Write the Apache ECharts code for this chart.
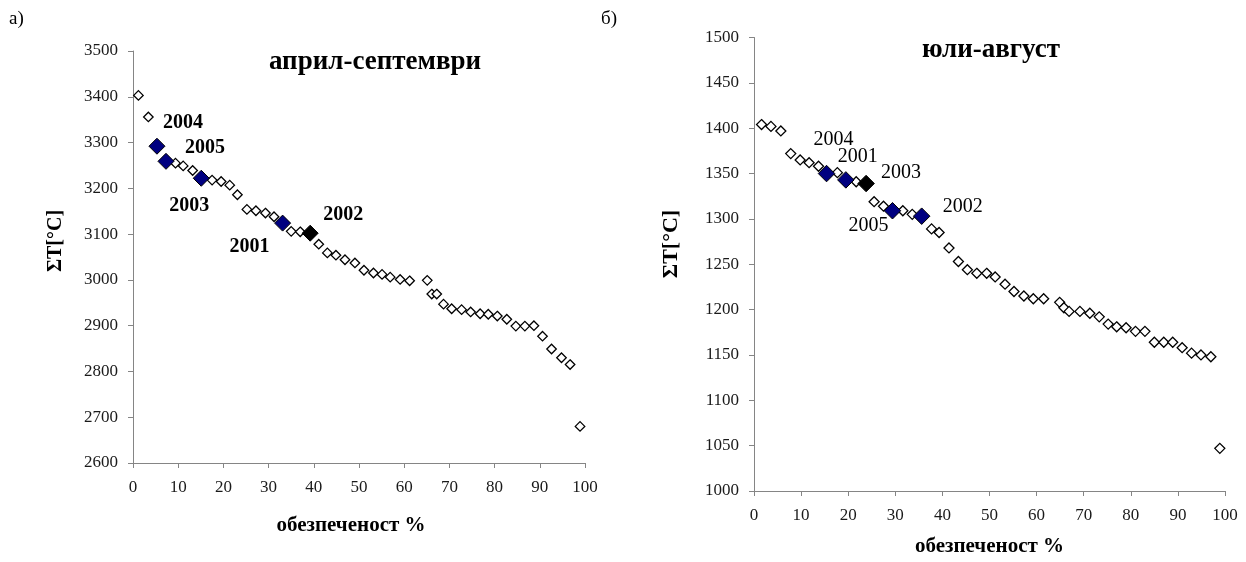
<!DOCTYPE html>
<html>
<head>
<meta charset="utf-8">
<script src="https://cdn.jsdelivr.net/npm/echarts@6/dist/echarts.min.js"></script>
<style>
html,body{margin:0;padding:0;background:#fff;}
#chart{width:1246px;height:562px;}
</style>
</head>
<body>
<div id="chart"></div>
<script>
// ---- Data: panel a) April-September ----
const aOpenX = [1.2,3.4,9.4,11.1,13.2,17.5,19.5,21.4,23.1,25.2,27.2,29.3,31.2,35.0,37.0,41.1,43.0,44.9,46.9,49.1,51.1,53.2,55.1,56.9,59.1,61.2,65.1,66.1,67.2,68.7,70.5,72.7,74.7,76.8,78.6,80.6,82.7,84.7,86.7,88.7,90.6,92.6,94.8,96.7,98.9];
const aOpenY = [3403,3356,3255,3249,3239,3218,3215,3207,3186,3154,3151,3146,3138,3106,3105,3078,3059,3054,3044,3037,3021,3015,3012,3006,3001,2998,2999,2969,2969,2947,2937,2935,2930,2926,2925,2921,2914,2899,2899,2900,2877,2849,2830,2815,2680];
const aYears = ['2004','2005','2003','2001','2002'];
const aHiX = [5.3,7.3,15.1,33.1,39.2];
const aHiY = [3292,3259,3222,3124,3102];

// ---- Data: panel б) July-August ----
const bOpenX = [1.6,3.6,5.7,7.8,9.8,11.7,13.7,17.7,21.7,25.5,27.5,31.6,33.6,37.7,39.3,41.4,43.4,45.3,47.3,49.4,51.2,53.3,55.2,57.3,59.3,61.5,64.9,65.8,66.9,69.2,71.3,73.3,75.2,77.0,79.0,81.0,83.0,85.0,87.0,88.9,90.9,92.9,94.9,97.0,98.9];
const bOpenY = [1404,1402,1397,1372,1365,1362,1358,1351,1341,1319,1314,1309,1305,1289,1285,1268,1253,1244,1240,1240,1236,1228,1220,1215,1212,1212,1208,1202,1198,1198,1196,1192,1184,1181,1180,1176,1176,1164,1164,1164,1158,1152,1150,1148,1047];
const bYears = ['2004','2001','2003','2005','2002'];
const bHiX = [15.4,19.5,23.8,29.4,35.6];
const bHiY = [1350,1343,1339,1309,1303];

// ---- Tick settings ----
const xTicks = {min:0, max:100, interval:10};
const aYTicks = {min:2600, max:3500, interval:100};
const bYTicks = {min:1000, max:1500, interval:50};

// ---- Styling (kept apart from data) ----
const NAVY = '#000080';
const aHiColors = [NAVY, NAVY, NAVY, NAVY, '#000000'];
const bHiColors = [NAVY, NAVY, '#000000', NAVY, NAVY];
const aLabelOffsets = [[26,-23],[39,-13],[-12,28],[-33,24],[33,-18]];
const bLabelOffsets = [[7,-34],[12,-23],[35,-11],[-24,15],[41,-9]];

const FONT = 'Liberation Serif, Times New Roman, serif';
const AXIS_GRAY = '#858585';
const TEXT = '#1a1a1a';

function zip(xs, ys){ return xs.map((x,i)=>[x, ys[i]]); }

function hiData(xs, ys, years, colors, offsets, bold){
  return xs.map((x,i)=>({
    value:[x, ys[i]],
    name: years[i],
    itemStyle:{color:colors[i], opacity:1},
    label:{
      show:true, formatter: years[i], position:'inside',
      offset: offsets[i],
      fontFamily: FONT, fontSize: 20, fontWeight: bold ? 'bold' : 'normal',
      color: '#000', opacity:1
    }
  }));
}

function xAxisCfg(gridIndex, nameGap, pad){
  return {
    gridIndex, type:'value', min:xTicks.min, max:xTicks.max, interval:xTicks.interval,
    name:'обезпеченост %', nameLocation:'middle', nameGap,
    nameTextStyle:{fontFamily:FONT, fontSize:21, fontWeight:'bold', color:'#000', padding:pad},
    axisLine:{show:true, onZero:false, lineStyle:{color:AXIS_GRAY, width:1}},
    axisTick:{show:true, length:5, lineStyle:{color:AXIS_GRAY}},
    axisLabel:{margin:16, fontFamily:FONT, fontSize:17, color:TEXT, formatter:v=>String(v)},
    splitLine:{show:false}
  };
}
function yAxisCfg(gridIndex, t){
  return {
    gridIndex, type:'value', min:t.min, max:t.max, interval:t.interval,
    axisLine:{show:true, onZero:false, lineStyle:{color:AXIS_GRAY, width:1}},
    axisTick:{show:true, length:5, lineStyle:{color:AXIS_GRAY}},
    axisLabel:{margin:15, fontFamily:FONT, fontSize:17, color:TEXT, formatter:v=>String(v)},
    splitLine:{show:false}
  };
}

const chart = echarts.init(document.getElementById('chart'));
chart.setOption({
  backgroundColor:'#fff',
  animation:false,
  grid:[
    {left:133, top:51, width:452, height:412},
    {left:754, top:37.5, width:471, height:458}
  ],
  xAxis:[xAxisCfg(0, 52, [0,16,0,0]), xAxisCfg(1, 45, [0,0,0,0])],
  yAxis:[yAxisCfg(0, aYTicks), yAxisCfg(1, bYTicks)],
  title:[
    {text:'април-септември', left:370, top:44, textAlign:'center',
     textStyle:{fontFamily:FONT, fontSize:27, fontWeight:'bold', color:'#000'}},
    {text:'юли-август', left:986, top:32, textAlign:'center',
     textStyle:{fontFamily:FONT, fontSize:27, fontWeight:'bold', color:'#000'}}
  ],
  graphic:[
    {type:'text', left:9, top:10, style:{text:'а)', font:'19px '+FONT, fill:'#000'}},
    {type:'text', left:601, top:10, style:{text:'б)', font:'19px '+FONT, fill:'#000'}},
    {type:'text', x:56, y:241, rotation:Math.PI/2,
     style:{text:'ΣT[°C]', font:'bold 20px '+FONT, fill:'#000', align:'center', verticalAlign:'middle'}},
    {type:'text', x:671, y:244, rotation:Math.PI/2,
     style:{text:'ΣT[°C]', font:'bold 22px '+FONT, fill:'#000', align:'center', verticalAlign:'middle'}}
  ],
  series:[
    {type:'scatter', xAxisIndex:0, yAxisIndex:0, symbol:'diamond', symbolSize:9.5,
     itemStyle:{color:'#fff', borderColor:'#000', borderWidth:1.3, opacity:1},
     data: zip(aOpenX, aOpenY), z:2},
    {type:'scatter', xAxisIndex:0, yAxisIndex:0, symbol:'diamond', symbolSize:16,
     itemStyle:{borderColor:'#000', borderWidth:1, opacity:1},
     data: hiData(aHiX, aHiY, aYears, aHiColors, aLabelOffsets, true), z:3},
    {type:'scatter', xAxisIndex:1, yAxisIndex:1, symbol:'diamond', symbolSize:10,
     itemStyle:{color:'#fff', borderColor:'#000', borderWidth:1.3, opacity:1},
     data: zip(bOpenX, bOpenY), z:2},
    {type:'scatter', xAxisIndex:1, yAxisIndex:1, symbol:'diamond', symbolSize:16.5,
     itemStyle:{borderColor:'#000', borderWidth:1, opacity:1},
     data: hiData(bHiX, bHiY, bYears, bHiColors, bLabelOffsets, false), z:3}
  ]
});
</script>
</body>
</html>
